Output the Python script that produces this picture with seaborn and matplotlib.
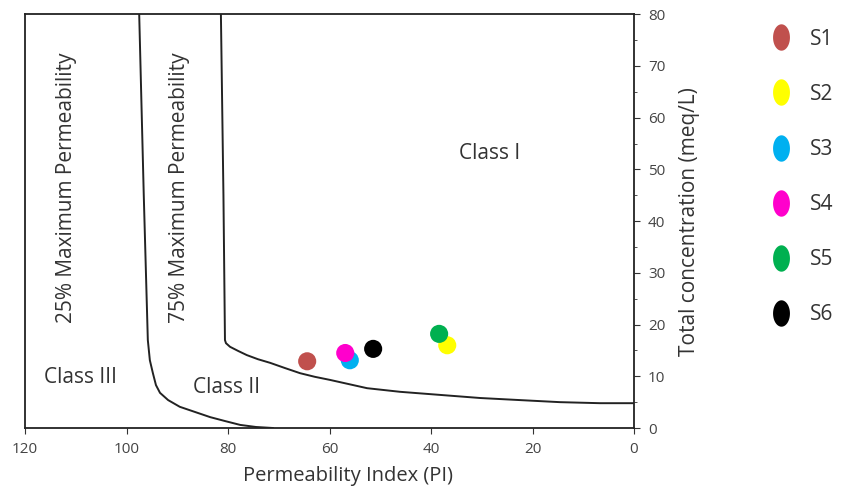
import numpy as np
import pandas as pd
import matplotlib
matplotlib.use("Agg")
import matplotlib.pyplot as plt
import seaborn as sns
from matplotlib.path import Path
from matplotlib.lines import Line2D
from matplotlib.ticker import MultipleLocator

# boundary curves (PI, total concentration)
pi_25 = [97.5, 96.6, 95.8, 95.4, 94.8, 94.2, 93.4, 91.8, 89.5, 86.5, 83.5, 80.6, 77.6, 74.5, 71.1]
tc_25 = [80.0, 45.0, 17.0, 13.1, 10.6, 8.3, 6.8, 5.4, 4.1, 3.1, 2.1, 1.35, 0.6, 0.2, 0.0]
pi_75 = [81.4, 80.9, 80.6, 80.4, 79.6, 78.0, 76.3, 74.1, 71.7, 68.8, 65.8, 62.9, 59.9,
         52.6, 46.1, 38.2, 30.3, 22.5, 14.6, 6.7, 0.0]
tc_75 = [80.0, 45.0, 17.0, 16.4, 15.7, 14.9, 14.1, 13.3, 12.6, 11.6, 10.6, 9.9, 9.3,
         7.7, 7.0, 6.4, 5.8, 5.4, 5.0, 4.8, 4.8]

# samples
samples = ["S1", "S2", "S3", "S4", "S5", "S6"]
pi_vals = [64.4, 36.8, 56.0, 56.9, 38.4, 51.4]
tc_vals = [12.9, 16.0, 13.1, 14.5, 18.2, 15.3]
colors = ["#c0504d", "#ffff00", "#00b0f0", "#ff00cc", "#00b050", "#000000"]

sns.set_style("ticks")
plt.rcParams["font.family"] = ["Open Sans", "DejaVu Sans"]

fig = plt.figure(figsize=(8.45, 4.9), dpi=100)
ax = fig.add_axes([0.0296, 0.1265, 0.7207, 0.8445])

curves = pd.DataFrame({"pi": pi_25 + pi_75, "tc": tc_25 + tc_75,
                       "curve": ["25%"] * len(pi_25) + ["75%"] * len(pi_75)})
sns.lineplot(data=curves, x="pi", y="tc", units="curve", estimator=None,
             sort=False, color="#222222", lw=1.4, ax=ax,
             solid_joinstyle="round", solid_capstyle="round")

df = pd.DataFrame({"sample": samples, "pi": pi_vals, "tc": tc_vals})
sns.scatterplot(data=df, x="pi", y="tc", hue="sample", palette=colors,
                s=170, edgecolor="none", legend=False, ax=ax, zorder=3)

ax.set_xlim(120, 0)
ax.set_ylim(0, 80)
ax.xaxis.set_major_locator(MultipleLocator(20))
ax.yaxis.set_major_locator(MultipleLocator(10))
ax.yaxis.set_minor_locator(MultipleLocator(5))
ax.yaxis.tick_right()
ax.yaxis.set_label_position("right")
ax.tick_params(axis="both", which="major", labelsize=11, colors="#333333",
               labelcolor="#444444", length=4, pad=6)
ax.tick_params(axis="y", which="minor", length=2.5, colors="#333333")
for sp in ax.spines.values():
    sp.set_linewidth(1.3)
    sp.set_color("#222222")
ax.set_xlabel("Permeability Index (PI)", fontsize=14.5, color="#333333")
ax.xaxis.set_label_coords(0.53, -0.093)
ax.set_ylabel("Total concentration (meq/L)", fontsize=15, color="#333333", labelpad=10)

txt = dict(color="#333333", fontsize=15, ha="center", va="center")
ax.text(111.8, 46.5, "25% Maximum Permeability", rotation=90, **txt)
ax.text(89.5, 46.5, "75% Maximum Permeability", rotation=90, **txt)
ax.text(28.4, 53.0, "Class I", **txt)
ax.text(80.3, 7.8, "Class II", **txt)
ax.text(109.0, 9.7, "Class III", **txt)

t = np.linspace(0, 2 * np.pi, 60)
ellipse = Path(np.column_stack([0.64 * np.cos(t), np.sin(t)]), closed=True)
handles = [Line2D([], [], ls="none", marker=ellipse, markersize=19,
                  markerfacecolor=c, markeredgecolor="none") for c in colors]
fig.legend(handles, samples, loc="upper left", bbox_to_anchor=(0.89, 0.98),
           frameon=False, fontsize=15, labelspacing=1.64, handletextpad=0.9,
           handlelength=1.0, labelcolor="#333333")

fig.savefig("out.png", dpi=100)
